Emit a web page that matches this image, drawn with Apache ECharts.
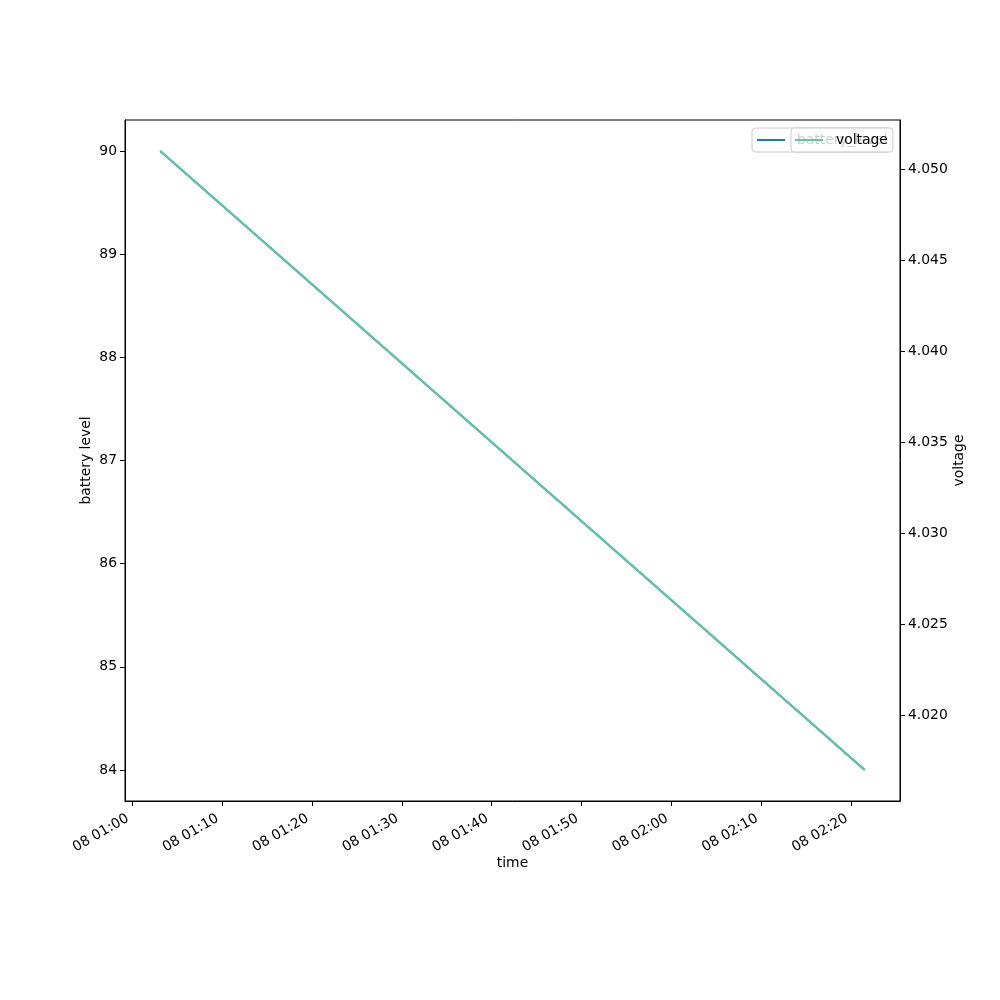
<!DOCTYPE html>
<html>
<head>
<meta charset="utf-8">
<script src="https://cdn.jsdelivr.net/npm/echarts@6/dist/echarts.min.js"></script>
<style>html,body{margin:0;padding:0;background:#fff}#c{width:1000px;height:1000px}</style>
</head>
<body>
<div id="c"></div>
<script>
const day = '2024-01-08';
const times = ['01:03:08', '02:21:30'];
const batteryLevel = [90, 84];
const voltage = [4.051, 4.017];
const xTickLabels = ['01:00','01:10','01:20','01:30','01:40','01:50','02:00','02:10','02:20'];
const leftTicks = [84, 85, 86, 87, 88, 89, 90];
const rightTicks = [4.020, 4.025, 4.030, 4.035, 4.040, 4.045, 4.050];

function ts(t){ const [h,m,s] = t.split(':').map(Number); const [Y,M,D] = day.split('-').map(Number); return new Date(Y, M-1, D, h, m, s||0).getTime(); }
const tsList = times.map(ts);
function pad(arr){ const lo=Math.min(...arr), hi=Math.max(...arr), d=(hi-lo)*0.05; return [lo-d, hi+d]; }
const [xmin,xmax] = pad(tsList);
const [lmin,lmax] = pad(batteryLevel);
const [rmin,rmax] = pad(voltage);
const xTickVals = xTickLabels.map(ts);

function two(n){ return (n<10?'0':'')+n; }
function fmtTime(v){ const d=new Date(v); return two(d.getDate())+' '+two(d.getHours())+':'+two(d.getMinutes()); }

const font = 'DejaVu Sans';
const chart = echarts.init(document.getElementById('c'), null, {renderer:'canvas'});
const lbl = {color:'#000', fontSize:13.9, fontFamily:font};
chart.setOption({
  animation:false,
  backgroundColor:'#fff',
  grid:{left:125, right:100, top:120, bottom:199, show:true, borderColor:'#000', borderWidth:1, containLabel:false},
  legend:[
    {left:752, top:128, z:5, data:[{name:'battery_level'}], orient:'horizontal', icon:'rect', itemWidth:28, itemHeight:2, itemGap:10,
     padding:[5,3,5,5], backgroundColor:'rgba(255,255,255,0.8)', borderColor:'#ccc', borderWidth:1, borderRadius:3,
     textStyle:{color:'#000', fontSize:13.9, fontFamily:font, padding:[0,0,0,7]}},
    {left:791, top:128, z:6, data:[{name:'voltage'}], orient:'horizontal', icon:'rect', itemWidth:28, itemHeight:2,
     padding:[5,5,5,4], backgroundColor:'rgba(255,255,255,0.8)', borderColor:'#ccc', borderWidth:1, borderRadius:3,
     textStyle:{color:'#000', fontSize:13.9, fontFamily:font, padding:[0,0,0,8]}}
  ],
  xAxis:{type:'value', min:xmin, max:xmax, name:'time', nameLocation:'middle', nameGap:55, nameMoveOverlap:false,
    nameTextStyle:lbl,
    axisLine:{show:true, onZero:false, lineStyle:{color:'#000', width:1}},
    axisTick:{show:true, length:5, customValues:xTickVals, lineStyle:{color:'#000'}},
    axisLabel:Object.assign({}, lbl, {rotate:30, margin:14, padding:[0,5,0,0], customValues:xTickVals, formatter:fmtTime}),
    splitLine:{show:false}},
  yAxis:[
    {type:'value', position:'left', min:lmin, max:lmax, name:'battery level', nameLocation:'middle', nameGap:32, nameMoveOverlap:false,
     nameTextStyle:lbl,
     axisLine:{show:true, lineStyle:{color:'#000', width:1}},
     axisTick:{show:true, length:5, customValues:leftTicks, lineStyle:{color:'#000'}},
     axisLabel:Object.assign({}, lbl, {margin:8, customValues:leftTicks}),
     splitLine:{show:false}},
    {type:'value', position:'right', min:rmin, max:rmax, name:'voltage', nameLocation:'middle', nameGap:52, nameMoveOverlap:false,
     nameTextStyle:lbl,
     axisLine:{show:true, lineStyle:{color:'#000', width:1}},
     axisTick:{show:true, length:5, customValues:rightTicks, lineStyle:{color:'#000'}},
     axisLabel:Object.assign({}, lbl, {margin:8, customValues:rightTicks, formatter:(v)=>v.toFixed(3)}),
     splitLine:{show:false}}
  ],
  series:[
    {name:'battery_level', type:'line', yAxisIndex:0, symbol:'none', showSymbol:false,
     lineStyle:{color:'#1f77b4', width:2}, itemStyle:{color:'#1f77b4'},
     data:tsList.map((t,i)=>[t, batteryLevel[i]])},
    {name:'voltage', type:'line', yAxisIndex:1, symbol:'none', showSymbol:false,
     lineStyle:{color:'#66c2a5', width:2}, itemStyle:{color:'#66c2a5'},
     data:tsList.map((t,i)=>[t, voltage[i]])}
  ]
});
</script>
</body>
</html>
